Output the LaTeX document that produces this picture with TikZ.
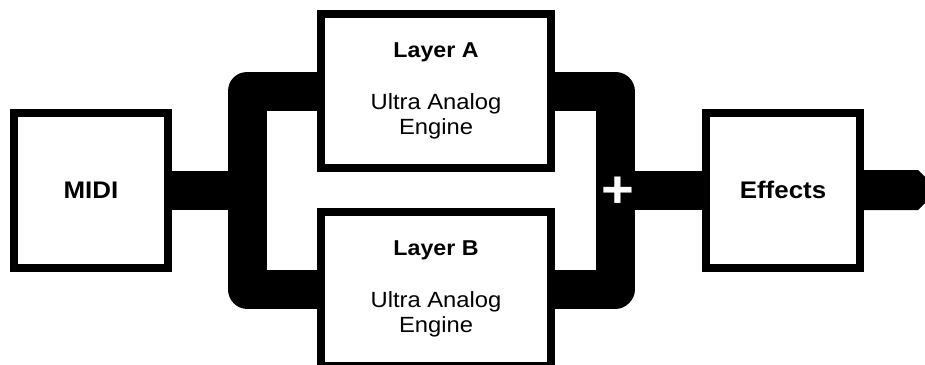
\documentclass[tikz,border=0pt]{standalone}
\usepackage{fontspec}
\setmainfont{Liberation Sans}[FakeStretch=1.08]
\usetikzlibrary{calc}
\begin{document}
\begin{tikzpicture}[x=1pt, y=-1pt,
    box/.style={draw, line width=8pt, fill=white, inner sep=0pt, align=center},
    unit/.style={box, minimum width=154pt, minimum height=155pt, font=\fontsize{24}{28}\selectfont\bfseries},
    layer/.style={box, minimum width=230pt, minimum height=154pt, font=\fontsize{22}{25}\selectfont},
    bus/.style={line width=39pt, line join=round}]
  \useasboundingbox (0,0) rectangle (925,364);
  \clip (0,0) rectangle (925,364);
  % blocks
  \node[unit] (midi) at (91,190) {MIDI};
  \node[layer] (layA) at (436,91) {{\fontsize{21.5}{25}\selectfont\bfseries Layer A}\\[27pt]Ultra Analog\\Engine};
  \node[layer] (layB) at (436,289) {{\fontsize{21.5}{25}\selectfont\bfseries Layer B}\\[27pt]Ultra Analog\\Engine};
  \node[unit] (fx) at (783,190) {Effects};
  \coordinate (split) at (247,190);
  \coordinate (sum) at (615,190);
  % signal paths
  \draw[bus] (midi.east) -- (split);
  \draw[bus] (layA.west) -| (split) |- (layB.west);
  \draw[bus] (layA.east) -| (sum) |- (layB.east);
  \draw[bus] (sum) -- (fx.west);
  \fill ($(fx.east)+(0,-20)$) -- ($(fx.east)+(54,-20)$) -- ($(fx.east)+(61,-13)$)
    -- ($(fx.east)+(61,13)$) -- ($(fx.east)+(54,20)$) -- ($(fx.east)+(0,20)$) -- cycle;
  \node[text=white, font=\fontsize{52}{52}\selectfont\bfseries, inner sep=0pt] (plus) at ($(sum)+(3,2)$) {+};
\end{tikzpicture}
\end{document}
